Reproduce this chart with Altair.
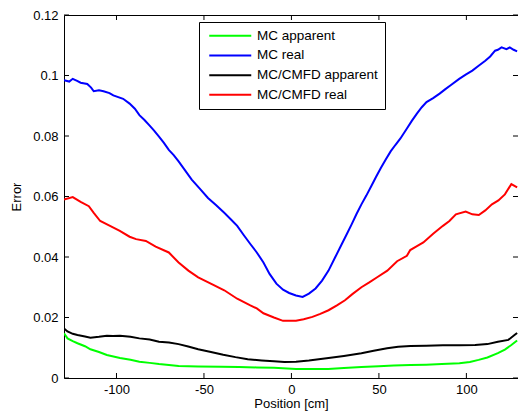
import altair as alt
import pandas as pd

# ---- data ----
series_names = ["MC apparent", "MC real", "MC/CMFD apparent", "MC/CMFD real"]
series_colors = ["#00ff00", "#0000ff", "#000000", "#ff0000"]

x_ticks = [-100, -50, 0, 50, 100]
y_ticks = [0, 0.02, 0.04, 0.06, 0.08, 0.10, 0.12]

mc_real_x = [-130, -127, -125, -122.5, -120.5, -116.7, -114.5, -113, -110, -107.4, -104, -101.8,
             -96.2, -92.5, -89.5, -86.9, -84, -81.3, -78.5, -75.7, -73, -70.1, -67.3, -64.5, -61,
             -57, -52.4, -47.7, -43, -38.4, -34.7, -31, -27.2, -23.5, -19.8, -16, -12.5, -8.6,
             -4.8, -1.3, 2.6, 6.4, 10, 13.8, 17.5, 21.2, 25, 28.8, 31.6, 34.4, 37.2, 40, 42.8,
             45.6, 48.4, 51.1, 53.9, 56.7, 59.5, 62.3, 66, 68.8, 71.7, 74.5, 77.2, 81, 84.7, 88,
             91, 95.9, 99.6, 103.4, 107, 110.8, 113.6, 116.4, 118, 120.1, 122.9, 124.8, 127, 129]
mc_real_y = [0.0984, 0.0980, 0.0989, 0.0982, 0.0976, 0.0972, 0.0960, 0.0948, 0.0951, 0.0948,
             0.0942, 0.0934, 0.0923, 0.0907, 0.0890, 0.0869, 0.0853, 0.0836, 0.0818, 0.0798,
             0.0778, 0.0754, 0.0737, 0.0716, 0.0688, 0.0656, 0.0626, 0.0595, 0.0571, 0.0546,
             0.0525, 0.0503, 0.0472, 0.0443, 0.0415, 0.0382, 0.0344, 0.0312, 0.0292, 0.0281,
             0.0273, 0.0268, 0.0279, 0.0296, 0.0322, 0.0355, 0.0399, 0.0443, 0.0475, 0.0508,
             0.0542, 0.0574, 0.0603, 0.0634, 0.0665, 0.0694, 0.0722, 0.0749, 0.0771, 0.0792,
             0.0825, 0.0850, 0.0874, 0.0895, 0.0912, 0.0925, 0.0940, 0.0955, 0.0968, 0.0989,
             0.1003, 0.1016, 0.1032, 0.1049, 0.1063, 0.1082, 0.1085, 0.1093, 0.1087, 0.1093,
             0.1085, 0.1080]

cmfd_real_x = [-130, -125, -120.5, -115.8, -113, -109.3, -103.7, -98.1, -92.5, -88.8, -83.2,
               -77.6, -70.1, -64.5, -58.9, -53.3, -45.8, -38.4, -31, -23.5, -19.8, -16, -10,
               -4.8, 2.6, 7, 12, 16.5, 21.2, 26, 30.6, 35, 40, 44.5, 49, 54.8, 60.4, 66, 67.9,
               71.5, 75.4, 81, 86.6, 90.3, 94, 99.6, 103.4, 107.1, 110.8, 114.6, 118.3, 122,
               125.7, 129]
cmfd_real_y = [0.0590, 0.0598, 0.0582, 0.0568, 0.0546, 0.0519, 0.0503, 0.0486, 0.0467, 0.0459,
               0.0453, 0.0434, 0.0415, 0.0382, 0.0355, 0.0333, 0.0311, 0.0290, 0.0262, 0.0240,
               0.0230, 0.0214, 0.0200, 0.0189, 0.0189, 0.0194, 0.0202, 0.0212, 0.0224, 0.0240,
               0.0257, 0.0278, 0.0300, 0.0316, 0.0333, 0.0355, 0.0386, 0.0404, 0.0423, 0.0435,
               0.0448, 0.0477, 0.0503, 0.0519, 0.0541, 0.0550, 0.0541, 0.0539, 0.0554, 0.0574,
               0.0587, 0.0607, 0.0641, 0.0630]

cmfd_app_x = [-130, -128, -125, -122.3, -118, -114.9, -110, -105.5, -102, -98, -92, -86.9, -81,
              -75.7, -70, -64.5, -59, -53.3, -46, -39, -32, -25, -17, -10, -4, 2.6, 10, 21.2,
              30, 40, 47, 54.7, 61, 68, 77, 86.6, 96, 105, 112, 118, 124, 127.5, 129]
cmfd_app_y = [0.0164, 0.0154, 0.0146, 0.0142, 0.0137, 0.0133, 0.0136, 0.0140, 0.0139, 0.0140,
              0.0136, 0.0131, 0.0127, 0.0120, 0.0117, 0.0112, 0.0104, 0.0095, 0.0086, 0.0077,
              0.0069, 0.0062, 0.0058, 0.0055, 0.0053, 0.0054, 0.0058, 0.0066, 0.0073, 0.0082,
              0.0090, 0.0098, 0.0103, 0.0106, 0.0107, 0.0108, 0.0108, 0.0109, 0.0112, 0.0120,
              0.0126, 0.0142, 0.0149]

mc_app_x = [-130, -128, -125, -122.3, -118, -114.9, -110, -105.5, -98, -92, -86.9, -81, -75.7,
            -70, -64.5, -53.3, -40, -30, -20, -10, 2.6, 12, 21, 30, 40, 50, 58.5, 68, 77, 86,
            96, 102, 107, 112, 118, 122, 125.7, 129]
mc_app_y = [0.0148, 0.0131, 0.0122, 0.0115, 0.0105, 0.0095, 0.0086, 0.0076, 0.0066, 0.0060,
            0.0054, 0.0050, 0.0046, 0.0043, 0.0040, 0.0038, 0.0037, 0.0036, 0.0035, 0.0034,
            0.0030, 0.0030, 0.0030, 0.0033, 0.0036, 0.0039, 0.0041, 0.0043, 0.0044, 0.0046,
            0.0049, 0.0053, 0.0060, 0.0068, 0.0082, 0.0094, 0.0109, 0.0124]

# ---- build table ----
rows = []
for name, xs, ys in [
    ("MC apparent", mc_app_x, mc_app_y),
    ("MC real", mc_real_x, mc_real_y),
    ("MC/CMFD apparent", cmfd_app_x, cmfd_app_y),
    ("MC/CMFD real", cmfd_real_x, cmfd_real_y),
]:
    for x, y in zip(xs, ys):
        rows.append({"series": name, "pos": x, "err": y})
df = pd.DataFrame(rows)

W, H = 454, 363
FONT = "Liberation Sans"

xscale = alt.Scale(domain=[-130, 129.5], nice=False, zero=False)
yscale = alt.Scale(domain=[0, 0.12], nice=False, zero=False)

x_axis = alt.Axis(values=x_ticks, title="Position [cm]", labelExpr="'' + datum.value",
                  labelPadding=5, titlePadding=1)
y_axis = alt.Axis(values=y_ticks, labelExpr="'' + datum.value", title="Error",
                  labelPadding=6, titlePadding=9)

lines = alt.Chart(df).mark_line(strokeWidth=2, clip=True).encode(
    x=alt.X("pos:Q", scale=xscale, axis=x_axis),
    y=alt.Y("err:Q", scale=yscale, axis=y_axis),
    color=alt.Color("series:N",
                    scale=alt.Scale(domain=series_names, range=series_colors),
                    legend=alt.Legend(title=None, orient="none", legendX=135, legendY=7,
                                      symbolType="M-4.2,0H4.2", symbolSize=100,
                                      symbolStrokeWidth=2, symbolOffset=17.5,
                                      symbolFillColor="transparent",
                                      labelFont=FONT, labelOffset=20,
                                      labelFontSize=13.5, labelColor="black",
                                      strokeColor="black", fillColor="white",
                                      padding=7, rowPadding=4.7,
                                      cornerRadius=0)),
)

xt = pd.DataFrame({"pos": x_ticks})
yt = pd.DataFrame({"err": y_ticks})
tick_len = 5

bottom_ticks = alt.Chart(xt).mark_rule(color="black", strokeWidth=1).encode(
    x=alt.X("pos:Q", scale=xscale, axis=x_axis), y=alt.value(H), y2=alt.value(H - tick_len))
top_ticks = alt.Chart(xt).mark_rule(color="black", strokeWidth=1).encode(
    x=alt.X("pos:Q", scale=xscale, axis=x_axis), y=alt.value(0), y2=alt.value(tick_len))
left_ticks = alt.Chart(yt).mark_rule(color="black", strokeWidth=1).encode(
    y=alt.Y("err:Q", scale=yscale, axis=y_axis), x=alt.value(0), x2=alt.value(tick_len))
right_ticks = alt.Chart(yt).mark_rule(color="black", strokeWidth=1).encode(
    y=alt.Y("err:Q", scale=yscale, axis=y_axis), x=alt.value(W), x2=alt.value(W - tick_len))

chart = alt.layer(lines, bottom_ticks, top_ticks, left_ticks, right_ticks).properties(
    width=W, height=H,
    autosize=alt.AutoSizeParams(type="none"),
    padding={"left": 56, "top": 7, "right": 0, "bottom": 33},
    background="white",
).configure_view(
    stroke="black", strokeWidth=1,
).configure_axis(
    grid=False, domain=False, ticks=False, tickSize=0,
    labelFont=FONT, labelFontSize=13, labelColor="black",
    titleFont=FONT, titleFontSize=13, titleColor="black", titleFontWeight="normal",
)

chart.save("out.html", embed_options={"renderer": "svg", "actions": False})
